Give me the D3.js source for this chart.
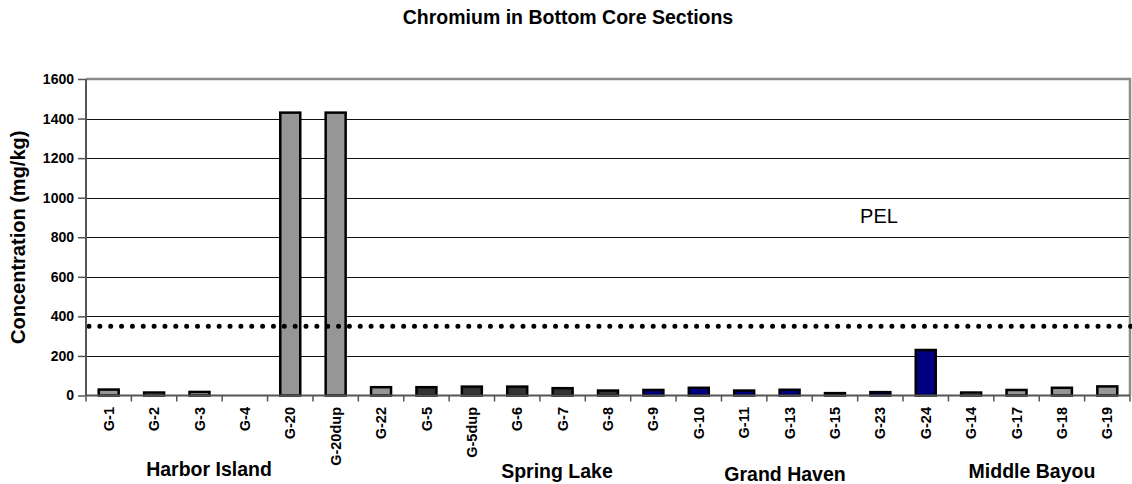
<!DOCTYPE html>
<html>
<head>
<meta charset="utf-8">
<title>Chromium in Bottom Core Sections</title>
<style>
    body { margin: 0; background: #fff; }
    svg text { font-family: "Liberation Sans", Arial, sans-serif; fill: #000; }
    .axis text { font-size: 14px; font-weight: bold; }
    .axis path { display: none; }
    .axis line { stroke: #555; stroke-width: 1.5; }
    .grid line { stroke: #111; stroke-width: 1; shape-rendering: crispEdges; }
</style>
</head>
<body>
<script src="https://cdnjs.cloudflare.com/ajax/libs/d3/7.8.5/d3.min.js"></script>
<script>

var categories = ["G-1", "G-2", "G-3", "G-4", "G-20", "G-20dup", "G-22", "G-5", "G-5dup", "G-6",
                  "G-7", "G-8", "G-9", "G-10", "G-11", "G-13", "G-15", "G-23", "G-24",
                  "G-14", "G-17", "G-18", "G-19"];
var concentrations = [30, 15, 18, 0, 1430, 1430, 42, 42, 45, 45,
                      37, 25, 28, 39, 25, 29, 12, 17, 230,
                      15, 28, 39, 46];
var yTicks = [0, 200, 400, 600, 800, 1000, 1200, 1400, 1600];
var pelValue = 350;
var groupNames = ["Harbor Island", "Spring Lake", "Grand Haven", "Middle Bayou"];

// bar colours (sites picked out by hand, like the original)
var darkSites = ["G-5", "G-5dup", "G-6", "G-7", "G-8"];
var navySites = ["G-9", "G-10", "G-11", "G-13", "G-15", "G-23", "G-24"];
function barColor(c) {
    if (darkSites.indexOf(c) >= 0) return "#333333";
    if (navySites.indexOf(c) >= 0) return "#000080";
    return "#969696";
}

var w = 1132, h = 484;
var plotLeft = 86, plotRight = 1130, plotTop = 79, plotBottom = 395.5;

var svg = d3.select("body").append("svg")
    .attr("width", w)
    .attr("height", h);

var xScale = d3.scaleBand()
    .domain(categories)
    .range([plotLeft, plotRight])
    .paddingInner(0.56)
    .paddingOuter(0.28);

var yScale = d3.scaleLinear()
    .domain([0, 1600])
    .range([plotBottom, plotTop]);

// gridlines
svg.append("g")
    .attr("class", "grid")
    .selectAll("line")
    .data(yTicks.filter(function(d) { return d > 0 && d < 1600; }))
    .enter()
    .append("line")
    .attr("x1", plotLeft)
    .attr("x2", plotRight)
    .attr("y1", function(d) { return Math.round(yScale(d)) + 0.5; })
    .attr("y2", function(d) { return Math.round(yScale(d)) + 0.5; });

// plot frame: top and right in grey
svg.append("path")
    .attr("d", "M" + plotLeft + "," + yScale(1600) + "H" + plotRight + "V" + yScale(0))
    .attr("fill", "none")
    .attr("stroke", "#8c8c8c")
    .attr("stroke-width", 2.5);

// bars
svg.append("g")
    .selectAll("rect")
    .data(categories.map(function(c, i) { return { name: c, value: concentrations[i] }; })
                    .filter(function(d) { return d.value > 0; }))
    .enter()
    .append("rect")
    .attr("x", function(d) { return xScale(d.name); })
    .attr("y", function(d) { return yScale(d.value); })
    .attr("width", xScale.bandwidth())
    .attr("height", function(d) { return yScale(0) - yScale(d.value); })
    .attr("fill", function(d) { return barColor(d.name); })
    .attr("stroke", "#000")
    .attr("stroke-width", 2.5);

// PEL dotted line
svg.append("line")
    .attr("x1", plotLeft + 3)
    .attr("x2", plotRight + 2)
    .attr("y1", yScale(pelValue))
    .attr("y2", yScale(pelValue))
    .attr("stroke", "#000")
    .attr("stroke-width", 5)
    .attr("stroke-linecap", "round")
    .attr("stroke-dasharray", "0 10.85");

svg.append("text")
    .attr("x", 879)
    .attr("y", 223)
    .attr("text-anchor", "middle")
    .style("font-size", "20px")
    .text("PEL");

// y axis
svg.append("g")
    .attr("class", "axis")
    .attr("transform", "translate(" + plotLeft + ",0)")
    .call(d3.axisLeft(yScale).tickValues(yTicks).tickFormat(d3.format("d")).tickSize(8).tickPadding(4));
svg.append("line")
    .attr("x1", plotLeft).attr("x2", plotLeft)
    .attr("y1", yScale(1600)).attr("y2", yScale(0))
    .attr("stroke", "#555").attr("stroke-width", 2);

// x axis line + ticks at band edges
svg.append("line")
    .attr("x1", plotLeft).attr("x2", plotRight)
    .attr("y1", yScale(0)).attr("y2", yScale(0))
    .attr("stroke", "#555").attr("stroke-width", 2);

var step = (plotRight - plotLeft) / categories.length;
svg.append("g")
    .selectAll("line")
    .data(d3.range(categories.length + 1))
    .enter()
    .append("line")
    .attr("x1", function(d) { return plotLeft + d * step; })
    .attr("x2", function(d) { return plotLeft + d * step; })
    .attr("y1", yScale(0))
    .attr("y2", yScale(0) + 6)
    .attr("stroke", "#555")
    .attr("stroke-width", 1.5);

svg.append("g")
    .attr("class", "axis")
    .selectAll("text")
    .data(categories)
    .enter()
    .append("text")
    .attr("transform", function(d) {
        return "translate(" + (xScale(d) + xScale.bandwidth() / 2) + "," + 407 + ") rotate(-90)";
    })
    .attr("text-anchor", "end")
    .attr("dy", "0.35em")
    .style("font-size", "14.5px")
    .style("font-weight", "bold")
    .text(function(d) { return d; });

// group labels under the axis
var groupX = [209, 557, 785, 1032];
var groupY = [476, 478, 481, 478];
svg.append("g")
    .selectAll("text")
    .data(groupNames)
    .enter()
    .append("text")
    .attr("x", function(d, i) { return groupX[i]; })
    .attr("y", function(d, i) { return groupY[i]; })
    .attr("text-anchor", "middle")
    .style("font-size", "19.5px")
    .style("font-weight", "bold")
    .text(function(d) { return d; });

// titles
svg.append("text")
    .attr("x", 568)
    .attr("y", 24)
    .attr("text-anchor", "middle")
    .style("font-size", "19.5px")
    .style("font-weight", "bold")
    .text("Chromium in Bottom Core Sections");

svg.append("text")
    .attr("transform", "translate(25," + ((plotTop + plotBottom) / 2) + ") rotate(-90)")
    .attr("text-anchor", "middle")
    .style("font-size", "20px")
    .style("font-weight", "bold")
    .text("Concentration (mg/kg)");

</script>
</body>
</html>
